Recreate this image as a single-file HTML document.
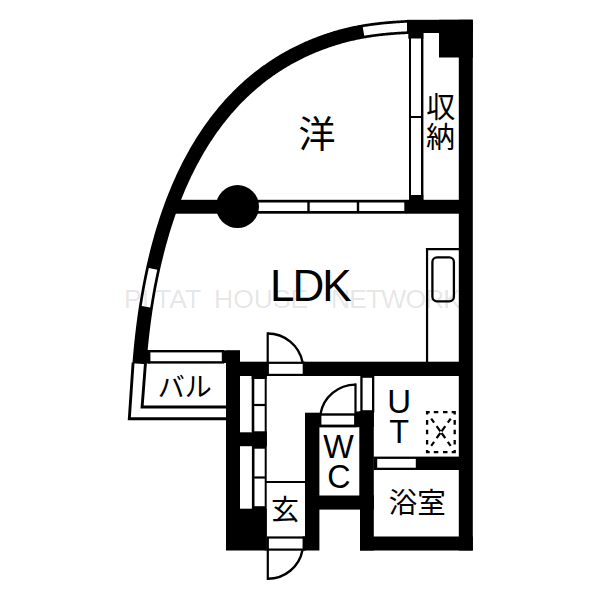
<!DOCTYPE html>
<html><head><meta charset="utf-8"><title>Floor plan</title>
<style>html,body{margin:0;padding:0;background:#fff;}body{width:600px;height:600px;overflow:hidden;font-family:"Liberation Sans",sans-serif;}svg{display:block;}</style>
</head><body>
<svg width="600" height="600" viewBox="0 0 600 600">
<rect width="600" height="600" fill="#fff"/>
<path d="M139.43 363.80 L139.51 362.80 L139.59 361.80 L139.67 360.80 L139.75 359.80 L139.83 358.80 L139.92 357.80 L140.00 356.80 L140.09 355.80 L140.18 354.80 L140.27 353.80 L140.36 352.80 L140.45 351.80 L140.54 350.80 L140.64 349.80 L140.73 348.80 L140.83 347.80 L140.93 346.80 L141.03 345.80 L141.13 344.80 L141.23 343.80 L141.34 342.80 L141.44 341.80 L141.55 340.80 L141.65 339.80 L141.76 338.80 L141.87 337.80 L141.98 336.80 L142.10 335.80 L142.21 334.80 L142.32 333.80 L142.44 332.80 L142.56 331.80 L142.68 330.80 L142.80 329.80 L142.92 328.80 L143.04 327.80 L143.17 326.80 L143.30 325.80 L143.42 324.80 L143.55 323.80 L143.68 322.80 L143.82 321.80 L143.95 320.80 L144.08 319.80 L144.22 318.80 L144.36 317.80 L144.50 316.80 L144.64 315.80 L144.78 314.80 L144.92 313.80 L145.07 312.80 L145.22 311.80 L145.36 310.80 L145.51 309.80 L145.66 308.80 L145.82 307.80 L145.97 306.80 L146.13 305.80 L146.28 304.80 L146.44 303.80 L146.60 302.80 L146.77 301.80 L146.93 300.80 L147.09 299.80 L147.26 298.80 L147.43 297.80 L147.60 296.80 L147.77 295.80 L147.95 294.80 L148.12 293.80 L148.30 292.80 L148.48 291.80 L148.66 290.80 L148.84 289.80 L149.02 288.80 L149.21 287.80 L149.39 286.80 L149.58 285.80 L149.77 284.80 L149.96 283.80 L150.16 282.80 L150.35 281.80 L150.55 280.80 L150.75 279.80 L150.95 278.80 L151.15 277.80 L151.36 276.80 L151.56 275.80 L151.77 274.80 L151.98 273.80 L152.19 272.80 L152.41 271.80 L152.62 270.80 L152.84 269.80 L153.06 268.80 L153.28 267.80 L153.50 266.80 L153.73 265.80 L153.95 264.80 L154.18 263.80 L154.41 262.80 L154.65 261.80 L154.88 260.80 L155.12 259.80 L155.36 258.80 L155.60 257.80 L155.84 256.80 L156.09 255.80 L156.33 254.80 L156.58 253.80 L156.83 252.80 L157.09 251.80 L157.34 250.80 L157.60 249.80 L157.86 248.80 L158.12 247.80 L158.39 246.80 L158.65 245.80 L158.92 244.80 L159.19 243.80 L159.46 242.80 L159.74 241.80 L160.02 240.80 L160.30 239.80 L160.58 238.80 L160.86 237.80 L161.15 236.80 L161.44 235.80 L161.73 234.80 L162.02 233.80 L162.32 232.80 L162.62 231.80 L162.92 230.80 L163.22 229.80 L163.53 228.80 L163.84 227.80 L164.15 226.80 L164.46 225.80 L164.78 224.80 L165.09 223.80 L165.41 222.80 L165.74 221.80 L166.06 220.80 L166.39 219.80 L166.72 218.80 L167.06 217.80 L167.39 216.80 L167.73 215.80 L168.08 214.80 L168.42 213.80 L168.77 212.80 L169.12 211.80 L169.47 210.80 L169.83 209.80 L170.19 208.80 L170.55 207.80 L170.91 206.80 L171.28 205.80 L171.65 204.80 L172.03 203.80 L172.40 202.80 L172.78 201.80 L173.16 200.80 L173.55 199.80 L173.94 198.80 L174.33 197.80 L174.72 196.80 L175.12 195.80 L175.52 194.80 L175.93 193.80 L176.34 192.80 L176.75 191.80 L177.16 190.80 L177.58 189.80 L178.00 188.80 L178.43 187.80 L178.85 186.80 L179.29 185.80 L179.72 184.80 L180.16 183.80 L180.60 182.80 L181.05 181.80 L181.50 180.80 L181.95 179.80 L182.41 178.80 L182.87 177.80 L183.33 176.80 L183.80 175.80 L184.27 174.80 L184.75 173.80 L185.23 172.80 L185.71 171.80 L186.20 170.80 L186.69 169.80 L187.18 168.80 L187.68 167.80 L188.19 166.80 L188.70 165.80 L189.21 164.80 L189.73 163.80 L190.25 162.80 L190.77 161.80 L191.30 160.80 L191.84 159.80 L192.38 158.80 L192.92 157.80 L193.47 156.80 L194.02 155.80 L194.58 154.80 L195.14 153.80 L195.71 152.80 L196.28 151.80 L196.86 150.80 L197.44 149.80 L198.03 148.80 L198.62 147.80 L199.22 146.80 L199.82 145.80 L200.43 144.80 L201.04 143.80 L201.66 142.80 L202.29 141.80 L202.92 140.80 L203.56 139.80 L204.20 138.80 L204.84 137.80 L205.50 136.80 L206.16 135.80 L206.82 134.80 L207.50 133.80 L208.17 132.80 L208.86 131.80 L209.55 130.80 L210.25 129.80 L210.95 128.80 L211.66 127.80 L212.38 126.80 L213.10 125.80 L213.83 124.80 L214.57 123.80 L215.32 122.80 L216.07 121.80 L216.83 120.80 L217.60 119.80 L218.37 118.80 L219.16 117.80 L219.95 116.80 L220.75 115.80 L221.56 114.80 L222.37 113.80 L223.20 112.80 L224.03 111.80 L224.87 110.80 L225.72 109.80 L226.58 108.80 L227.45 107.80 L228.33 106.80 L229.21 105.80 L230.11 104.80 L231.02 103.80 L231.94 102.80 L232.86 101.80 L233.80 100.80 L234.50 100.06 L235.50 99.02 L236.50 97.98 L237.50 96.96 L238.50 95.96 L239.50 94.96 L240.50 93.98 L241.50 93.00 L242.50 92.04 L243.50 91.09 L244.50 90.15 L245.50 89.22 L246.50 88.31 L247.50 87.40 L248.50 86.50 L249.50 85.62 L250.50 84.74 L251.50 83.88 L252.50 83.02 L253.50 82.17 L254.50 81.34 L255.50 80.51 L256.50 79.70 L257.50 78.89 L258.50 78.09 L259.50 77.30 L260.50 76.52 L261.50 75.75 L262.50 74.99 L263.50 74.23 L264.50 73.49 L265.50 72.75 L266.50 72.02 L267.50 71.30 L268.50 70.59 L269.50 69.89 L270.50 69.19 L271.50 68.51 L272.50 67.83 L273.50 67.16 L274.50 66.49 L275.50 65.84 L276.50 65.19 L277.50 64.55 L278.50 63.91 L279.50 63.29 L280.50 62.67 L281.50 62.06 L282.50 61.45 L283.50 60.85 L284.50 60.26 L285.50 59.68 L286.50 59.10 L287.50 58.53 L288.50 57.97 L289.50 57.41 L290.50 56.86 L291.50 56.32 L292.50 55.78 L293.50 55.25 L294.50 54.73 L295.50 54.21 L296.50 53.70 L297.50 53.19 L298.50 52.69 L299.50 52.20 L300.50 51.71 L301.50 51.23 L302.50 50.75 L303.50 50.28 L304.50 49.82 L305.50 49.36 L306.50 48.91 L307.50 48.46 L308.50 48.02 L309.50 47.58 L310.50 47.15 L311.50 46.73 L312.50 46.31 L313.50 45.89 L314.50 45.48 L315.50 45.08 L316.50 44.68 L317.50 44.29 L318.50 43.90 L319.50 43.52 L320.50 43.14 L321.50 42.77 L322.50 42.40 L323.50 42.04 L324.50 41.68 L325.50 41.33 L326.50 40.98 L327.50 40.64 L328.50 40.30 L329.50 39.96 L330.50 39.63 L331.50 39.31 L332.50 38.99 L333.50 38.68 L334.50 38.37 L335.50 38.06 L336.50 37.76 L337.50 37.46 L338.50 37.17 L339.50 36.88 L340.50 36.60 L341.50 36.32 L342.50 36.05 L343.50 35.78 L344.50 35.52 L345.50 35.26 L346.50 35.01 L347.50 34.76 L348.50 34.52 L349.50 34.28 L350.50 34.05 L351.50 33.82 L352.50 33.60 L353.50 33.38 L354.50 33.16 L355.50 32.96 L356.50 32.75 L357.50 32.55 L358.50 32.36 L359.50 32.16 L360.50 31.98 L361.50 31.79 L362.50 31.61 L363.50 31.44 L364.50 31.27 L365.50 31.10 L366.50 30.94 L367.50 30.78 L368.50 30.63 L369.50 30.48 L370.50 30.33 L371.50 30.18 L372.50 30.04 L373.50 29.91 L374.50 29.78 L375.50 29.65 L376.50 29.52 L377.50 29.40 L378.50 29.28 L379.50 29.16 L380.50 29.05 L381.50 28.94 L382.50 28.83 L383.50 28.73 L384.50 28.63 L385.50 28.53 L386.50 28.43 L387.50 28.34 L388.50 28.25 L389.50 28.17 L390.50 28.08 L391.50 28.00 L392.50 27.92 L393.50 27.85 L394.50 27.77 L395.50 27.70 L396.50 27.63 L397.50 27.57 L398.50 27.50 L399.50 27.44 L400.50 27.38 L401.50 27.32 L402.50 27.27 L403.50 27.21 L404.50 27.16 L405.50 27.11 L406.50 27.07 L407.50 27.02 L408.50 26.98" fill="none" stroke="#000" stroke-width="14.0"/>
<path d="M145.97 306.80 L146.13 305.80 L146.28 304.80 L146.44 303.80 L146.60 302.80 L146.77 301.80 L146.93 300.80 L147.09 299.80 L147.26 298.80 L147.43 297.80 L147.60 296.80 L147.77 295.80 L147.95 294.80 L148.12 293.80 L148.30 292.80 L148.48 291.80 L148.66 290.80 L148.84 289.80 L149.02 288.80 L149.21 287.80 L149.39 286.80 L149.58 285.80 L149.77 284.80 L149.96 283.80 L150.16 282.80 L150.35 281.80 L150.55 280.80 L150.75 279.80 L150.95 278.80 L151.15 277.80 L151.36 276.80 L151.56 275.80 L151.77 274.80 L151.98 273.80 L152.19 272.80 L152.41 271.80 L152.62 270.80 L152.84 269.80 L153.06 268.80" fill="none" stroke="#fff" stroke-width="8.6"/>
<path d="M363.50 31.44 L364.50 31.27 L365.50 31.10 L366.50 30.94 L367.50 30.78 L368.50 30.63 L369.50 30.48 L370.50 30.33 L371.50 30.18 L372.50 30.04 L373.50 29.91 L374.50 29.78 L375.50 29.65 L376.50 29.52 L377.50 29.40 L378.50 29.28 L379.50 29.16 L380.50 29.05 L381.50 28.94 L382.50 28.83 L383.50 28.73 L384.50 28.63 L385.50 28.53 L386.50 28.43 L387.50 28.34 L388.50 28.25 L389.50 28.17 L390.50 28.08 L391.50 28.00 L392.50 27.92 L393.50 27.85 L394.50 27.77 L395.50 27.70 L396.50 27.63 L397.50 27.57 L398.50 27.50 L399.50 27.44 L400.50 27.38 L401.50 27.32 L402.50 27.27 L403.50 27.21 L404.50 27.16 L405.50 27.11 L406.50 27.07 L407.50 27.02" fill="none" stroke="#fff" stroke-width="8.6"/>
<rect x="407.00" y="19.80" width="65.80" height="13.20" fill="#000" />
<rect x="408.30" y="33.00" width="15.00" height="5.70" fill="#000" />
<rect x="439.00" y="19.80" width="33.80" height="37.70" fill="#000" />
<rect x="458.80" y="19.80" width="14.00" height="530.70" fill="#000" />
<rect x="406.50" y="199.80" width="52.50" height="13.90" fill="#000" />
<rect x="409.00" y="194.80" width="14.30" height="6.20" fill="#000" />
<rect x="172.00" y="199.80" width="65.00" height="13.90" fill="#000" />
<rect x="226.00" y="361.70" width="42.50" height="14.30" fill="#000" />
<rect x="303.00" y="361.70" width="156.00" height="14.30" fill="#000" />
<rect x="222.00" y="350.40" width="18.00" height="12.60" fill="#000" />
<rect x="145.80" y="350.00" width="4.20" height="13.50" fill="#000" />
<rect x="226.00" y="350.50" width="14.00" height="200.00" fill="#000" />
<rect x="251.70" y="375.00" width="15.00" height="4.00" fill="#000" />
<rect x="251.70" y="375.00" width="2.60" height="57.00" fill="#000" />
<rect x="240.00" y="432.30" width="26.70" height="13.90" fill="#000" />
<rect x="252.00" y="431.30" width="14.70" height="14.90" fill="#000" />
<rect x="251.90" y="446.00" width="2.60" height="63.00" fill="#000" />
<rect x="240.00" y="508.70" width="26.70" height="41.80" fill="#000" />
<rect x="254.00" y="446.00" width="12.00" height="2.70" fill="#000" />
<rect x="254.00" y="506.20" width="12.00" height="2.80" fill="#000" />
<rect x="264.70" y="375.00" width="2.00" height="175.50" fill="#000" />
<rect x="305.00" y="412.70" width="14.40" height="137.80" fill="#000" />
<rect x="359.30" y="411.00" width="14.50" height="89.00" fill="#000" />
<rect x="355.50" y="411.50" width="18.30" height="15.50" fill="#000" />
<rect x="319.00" y="495.50" width="54.80" height="14.10" fill="#000" />
<rect x="360.00" y="495.50" width="13.80" height="55.00" fill="#000" />
<rect x="360.00" y="536.50" width="112.80" height="14.00" fill="#000" />
<rect x="373.50" y="456.60" width="85.50" height="13.40" fill="#000" />
<rect x="411.00" y="38.70" width="10.00" height="156.30" fill="#fff" />
<line x1="410.00" y1="33.00" x2="410.00" y2="195.50" stroke="#000" stroke-width="2.00" />
<line x1="422.20" y1="33.00" x2="422.20" y2="200.00" stroke="#000" stroke-width="2.40" />
<line x1="410.00" y1="117.00" x2="422.00" y2="117.00" stroke="#000" stroke-width="2.00" />
<rect x="251.35" y="201.15" width="154.30" height="11.20" fill="#fff" stroke="#000" stroke-width="2.70" />
<line x1="308.50" y1="200.50" x2="308.50" y2="213.00" stroke="#000" stroke-width="2.40" />
<line x1="358.00" y1="200.50" x2="358.00" y2="213.00" stroke="#000" stroke-width="2.40" />
<circle cx="237.5" cy="206.6" r="21.5"/>
<line x1="427.05" y1="248.00" x2="427.05" y2="362.00" stroke="#000" stroke-width="2.20" />
<line x1="425.95" y1="249.10" x2="459.00" y2="249.10" stroke="#000" stroke-width="2.10" />
<rect x="432.4" y="257.4" width="21.5" height="44" rx="4.6" ry="4.6" fill="none" stroke="#000" stroke-width="2.3"/>
<rect x="267.80" y="362.80" width="36.00" height="12.10" fill="#fff" stroke="#000" stroke-width="2.20" />
<line x1="267.70" y1="332.30" x2="267.70" y2="363.00" stroke="#000" stroke-width="2.20" />
<path d="M267.70 333.50 A35.50 35.50 0 0 1 302.54 362.2" fill="none" stroke="#000" stroke-width="2.4"/>
<rect x="149.20" y="351.20" width="73.80" height="11.20" fill="#fff" stroke="#000" stroke-width="2.40" />
<path d="M133.1 362.5 L129.3 418.7 L226.5 418.7" fill="none" stroke="#000" stroke-width="2.9"/>
<path d="M145.5 362.5 L142.1 407 L226.5 407" fill="none" stroke="#000" stroke-width="2.9"/>
<line x1="254.00" y1="405.00" x2="265.00" y2="405.00" stroke="#000" stroke-width="2.20" />
<line x1="254.00" y1="477.50" x2="265.00" y2="477.50" stroke="#000" stroke-width="2.20" />
<line x1="266.00" y1="482.00" x2="305.50" y2="482.00" stroke="#000" stroke-width="2.20" />
<rect x="267.80" y="537.50" width="36.00" height="12.10" fill="#fff" stroke="#000" stroke-width="2.20" />
<rect x="302.80" y="536.40" width="3.20" height="14.10" fill="#000" />
<line x1="267.80" y1="550.00" x2="267.80" y2="580.00" stroke="#000" stroke-width="2.20" />
<path d="M302.46 550.2 A35.30 35.30 0 0 1 267.80 578.80" fill="none" stroke="#000" stroke-width="2.4"/>
<rect x="320.20" y="414.50" width="35.10" height="11.50" fill="#fff" stroke="#000" stroke-width="2.40" />
<line x1="355.50" y1="383.40" x2="355.50" y2="414.00" stroke="#000" stroke-width="2.20" />
<path d="M355.50 384.60 A35.60 35.60 0 0 0 320.44 414" fill="none" stroke="#000" stroke-width="2.4"/>
<line x1="319.00" y1="426.00" x2="359.00" y2="426.00" stroke="#000" stroke-width="2.40" />
<rect x="361.45" y="376.65" width="11.70" height="34.70" fill="#fff" stroke="#000" stroke-width="2.30" />
<rect x="376.35" y="458.05" width="40.30" height="10.50" fill="#fff" stroke="#000" stroke-width="1.70" />
<path d="M426.0 412.1 L429.7 412.1 M426.0 452.1 L429.7 452.1 M433.8 412.1 L438.3 412.1 M433.8 452.1 L438.3 452.1 M443.0 412.1 L447.5 412.1 M443.0 452.1 L447.5 452.1 M451.7 412.1 L455.8 412.1 M451.7 452.1 L455.8 452.1 M427.1 411.0 L427.1 414.6 M454.7 411.0 L454.7 414.6 M427.1 420.0 L427.1 424.7 M454.7 420.0 L454.7 424.7 M427.1 429.8 L427.1 434.3 M454.7 429.8 L454.7 434.3 M427.1 439.9 L427.1 444.4 M454.7 439.9 L454.7 444.4 M427.1 450.0 L427.1 453.2 M454.7 450.0 L454.7 453.2" fill="none" stroke="#000" stroke-width="2.3"/>
<path d="M431.20 418.60 L434.10 422.60 M450.70 418.60 L447.80 422.60 M436.60 426.20 L440.35 431.40 M445.30 426.20 L441.55 431.40 M441.55 433.00 L445.30 438.20 M440.35 433.00 L436.60 438.20 M447.80 441.80 L450.70 445.80 M434.10 441.80 L431.20 445.80" fill="none" stroke="#000" stroke-width="2.2"/>
<text x="317" y="148.3" font-size="37" fill="#000" text-anchor="middle" font-family="&quot;Liberation Sans&quot;, &quot;Noto Sans CJK JP&quot;, sans-serif">洋</text>
<text x="440.7" y="117.6" font-size="29" fill="#000" text-anchor="middle" font-family="&quot;Liberation Sans&quot;, &quot;Noto Sans CJK JP&quot;, sans-serif">収</text>
<text x="440.5" y="148.2" font-size="29" fill="#000" text-anchor="middle" font-family="&quot;Liberation Sans&quot;, &quot;Noto Sans CJK JP&quot;, sans-serif">納</text>
<text x="285" y="519.9" font-size="28" fill="#000" text-anchor="middle" font-family="&quot;Liberation Sans&quot;, &quot;Noto Sans CJK JP&quot;, sans-serif">玄</text>
<text x="417.3" y="512.5" font-size="28.5" fill="#000" text-anchor="middle" font-family="&quot;Liberation Sans&quot;, &quot;Noto Sans CJK JP&quot;, sans-serif">浴室</text>
<text x="184.7" y="396.8" font-size="27" fill="#000" text-anchor="middle" font-family="&quot;Liberation Sans&quot;, &quot;Noto Sans CJK JP&quot;, sans-serif">バル</text>
<text x="270" y="301.23" font-size="44" fill="#000" textLength="81.5" lengthAdjust="spacing" font-family="&quot;Liberation Sans&quot;, sans-serif">LDK</text>
<text x="399.15" y="413.1" font-size="33" fill="#000" text-anchor="middle" font-family="&quot;Liberation Sans&quot;, sans-serif">U</text>
<text x="399.15" y="443.1" font-size="32.4" fill="#000" text-anchor="middle" font-family="&quot;Liberation Sans&quot;, sans-serif">T</text>
<text x="338.6" y="458.1" font-size="32.3" fill="#000" text-anchor="middle" font-family="&quot;Liberation Sans&quot;, sans-serif">W</text>
<text x="338.85" y="488" font-size="32.3" fill="#000" text-anchor="middle" font-family="&quot;Liberation Sans&quot;, sans-serif">C</text>
<g fill-opacity="0.115" fill="#000" font-size="26.5" font-family="&quot;Liberation Sans&quot;, sans-serif"><text x="124" y="308">PI</text><text x="155" y="308">TAT</text><text x="214" y="308.03">HOUSE</text><text x="331" y="308.03" textLength="130" lengthAdjust="spacing">NETWORK</text></g>
</svg>
</body></html>
